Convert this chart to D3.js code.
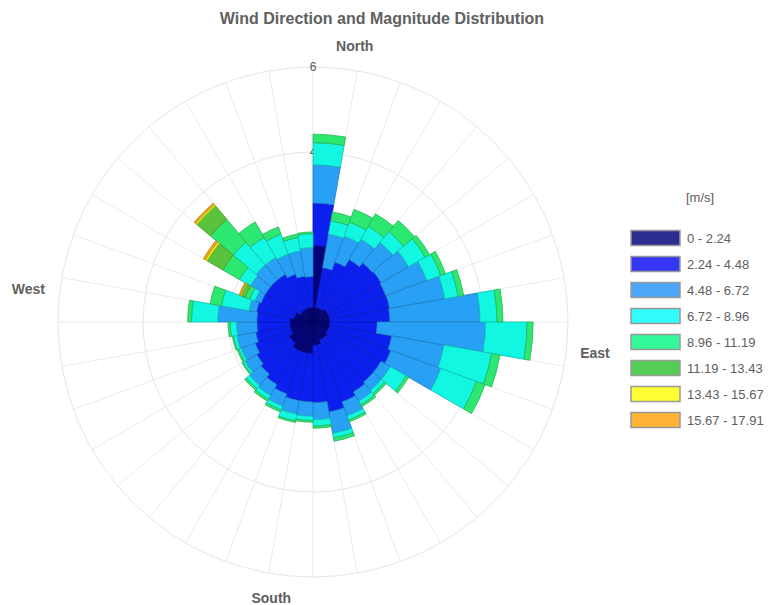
<!DOCTYPE html>
<html>
<head>
<meta charset="utf-8">
<script src="https://cdn.jsdelivr.net/npm/d3@7"></script>
<style>
  body { margin: 0; background: #fff; }
  svg { display: block; font-family: "Liberation Sans", Arial, sans-serif; }
</style>
</head>
<body>
<svg id="chart" width="774" height="605"></svg>
<script>
// Direction sectors: start of each 10° bin, clockwise from north
const directions = [0, 10, 20, 30, 40, 50, 60, 70, 80, 90, 100, 110, 120, 130, 140, 150, 160, 170,
                    180, 190, 200, 210, 220, 230, 240, 250, 260, 270, 280, 290, 300, 310, 320, 330, 340, 350];

// Wind speed classes [m/s]
const speedBins = ["0 - 2.24", "2.24 - 4.48", "4.48 - 6.72", "6.72 - 8.96",
                   "8.96 - 11.19", "11.19 - 13.43", "13.43 - 15.67", "15.67 - 17.91"];

// Frequency per direction for each speed class
const freq0 = [1.8, .35, .35, .35, .4, .4, .4, .4, .4, .4, .4, .4, .4, .45, .45, .45, .55, .55,
               .75, .75, .75, .75, .65, .65, .55, .55, .55, .55, .45, .45, .35, .35, .35, .35, .35, .35];
const freq1 = [1.0, .95, 1.15, 1.35, 1.42, 1.45, 1.42, 1.43, 1.41, 1.11, 1.48, 1.55, 1.45, 1.4, 1.45, 1.55, 1.6, 1.35,
               1.13, 1.13, 1.05, .95, .95, .88, .9, .82, .77, .77, .9, .85, .95, .95, .95, .85, .75, .72];
const freq2 = [.9, .8, .65, .55, .63, .75, 1.03, 1.32, 2.12, 2.55, 1.25, 1.25, .25, .25, .25, .35, .51, .4,
               .34, .32, .3, .3, .35, .32, .35, .45, .48, .92, .18, .15, .4, .45, .45, .5, .6, .68];
const freq3 = [.52, .32, .35, .35, .33, .45, .35, .32, .4, .98, 1.14, .89, .43, .1, .1, .1, .11, .15,
               .1, .16, .1, .1, .1, .05, .06, .08, .15, .62, .66, .13, .3, .7, .55, .5, .32, .33];
const freq4 = [.2, .21, .32, .34, .34, .12, .12, .13, .14, .14, .2, .22, .07, .05, .05, .05, .08, .05,
               .04, .04, .05, .05, .05, .03, .04, .03, .05, .09, .27, .12, .45, .7, .42, .18, .08, .04];
const freq5 = [0, 0, 0, 0, 0, 0, 0, 0, 0, 0, 0, 0, 0, 0, 0, 0, 0, 0,
               0, 0, 0, 0, 0, 0, 0, 0, 0, 0, 0, .1, .43, .42, 0, 0, 0, 0];
const freq6 = [0, 0, 0, 0, 0, 0, 0, 0, 0, 0, 0, 0, 0, 0, 0, 0, 0, 0,
               0, 0, 0, 0, 0, 0, 0, 0, 0, 0, 0, .02, .05, .04, 0, 0, 0, 0];
const freq7 = [0, 0, 0, 0, 0, 0, 0, 0, 0, 0, 0, 0, 0, 0, 0, 0, 0, 0,
               0, 0, 0, 0, 0, 0, 0, 0, 0, 0, 0, .03, .05, .04, 0, 0, 0, 0];

const radialTicks = [2, 4, 6];
const compassLabels = ["North", "East", "South", "West"];

// Colours: bar fills and legend swatches
const barColors = ["#03047a", "#0b20ef", "#27a0f5", "#12f6e2", "#2de870", "#5ac23c", "#f2f20a", "#f5a623"];
const legendColors = ["#2d2d91", "#3535f5", "#4da6fa", "#33fbfb", "#33f99a", "#55cc55", "#ffff33", "#ffb233"];

const freqs = [freq0, freq1, freq2, freq3, freq4, freq5, freq6, freq7];
const rows = directions.map((dir, i) => {
  const row = { dir };
  speedBins.forEach((k, j) => { row[k] = freqs[j][i]; });
  return row;
});

const svg = d3.select("#chart");
const cx = 313, cy = 322, outerR = 255;
const textColor = "#606060";

const rScale = d3.scaleLinear().domain([0, 6]).range([0, outerR]);
const aScale = d3.scaleBand().domain(directions).range([0, 2 * Math.PI]).padding(0);

const g = svg.append("g").attr("transform", `translate(${cx},${cy})`);

// Angular grid: one spoke per sector edge
g.append("g").selectAll("line")
  .data(directions)
  .join("line")
  .attr("x1", 0).attr("y1", 0)
  .attr("x2", d => outerR * Math.sin(aScale(d)))
  .attr("y2", d => -outerR * Math.cos(aScale(d)))
  .attr("stroke", "#ebebeb")
  .attr("stroke-width", 1);

// Radial grid circles
g.append("g").selectAll("circle")
  .data(radialTicks)
  .join("circle")
  .attr("r", d => rScale(d))
  .attr("fill", "none")
  .attr("stroke", "#e6e6e6")
  .attr("stroke-width", 1);

// Radial tick labels along the north axis
g.append("g").selectAll("text")
  .data(radialTicks)
  .join("text")
  .attr("x", 0)
  .attr("y", d => -rScale(d))
  .attr("text-anchor", "middle")
  .attr("dominant-baseline", "central")
  .attr("font-size", 12)
  .attr("fill", "#555")
  .text(d => d);

// Stacked sectors
const stacked = d3.stack().keys(speedBins)(rows);
const arc = d3.arc()
  .innerRadius(d => rScale(d[0]))
  .outerRadius(d => rScale(d[1]))
  .startAngle(d => aScale(d.data.dir))
  .endAngle(d => aScale(d.data.dir) + aScale.bandwidth());

stacked.forEach((series, i) => {
  g.append("g").selectAll("path")
    .data(series.filter(d => d[1] > d[0]))
    .join("path")
    .attr("d", arc)
    .attr("fill", barColors[i])
    .attr("stroke", d3.color(barColors[i]).darker(0.7))
    .attr("stroke-width", 0.8)
    .attr("stroke-linejoin", "round");
});

// Compass labels
const labelPlacement = {
  North: { angle: 8.6, r: 279, anchor: "middle" },
  East:  { angle: 96.6, r: 269, anchor: "start" },
  South: { angle: 188.6, r: 279, anchor: "middle" },
  West:  { angle: 277, r: 270, anchor: "end" }
};
g.append("g").selectAll("text")
  .data(compassLabels)
  .join("text")
  .attr("x", d => labelPlacement[d].r * Math.sin(labelPlacement[d].angle * Math.PI / 180))
  .attr("y", d => -labelPlacement[d].r * Math.cos(labelPlacement[d].angle * Math.PI / 180))
  .attr("text-anchor", d => labelPlacement[d].anchor)
  .attr("dominant-baseline", "central")
  .attr("font-size", 14)
  .attr("font-weight", "bold")
  .attr("fill", textColor)
  .text(d => d);

// Title
svg.append("text")
  .attr("x", 382).attr("y", 18)
  .attr("text-anchor", "middle")
  .attr("dominant-baseline", "central")
  .attr("font-size", 16)
  .attr("font-weight", "bold")
  .attr("fill", textColor)
  .text("Wind Direction and Magnitude Distribution");

// Legend
const legend = svg.append("g").attr("transform", "translate(631,238)");
legend.append("text")
  .attr("x", 55).attr("y", -41)
  .attr("dominant-baseline", "central")
  .attr("font-size", 13)
  .attr("fill", textColor)
  .text("[m/s]");

const items = legend.selectAll("g.item")
  .data(speedBins)
  .join("g")
  .attr("class", "item")
  .attr("transform", (d, i) => `translate(0,${i * 26})`);
items.append("rect")
  .attr("x", 0).attr("y", -7.5)
  .attr("width", 49).attr("height", 15)
  .attr("fill", (d, i) => legendColors[i])
  .attr("stroke", "#999")
  .attr("stroke-width", 1.5);
items.append("text")
  .attr("x", 56).attr("y", 0)
  .attr("dominant-baseline", "central")
  .attr("font-size", 13)
  .attr("fill", textColor)
  .text(d => d);
</script>
</body>
</html>
